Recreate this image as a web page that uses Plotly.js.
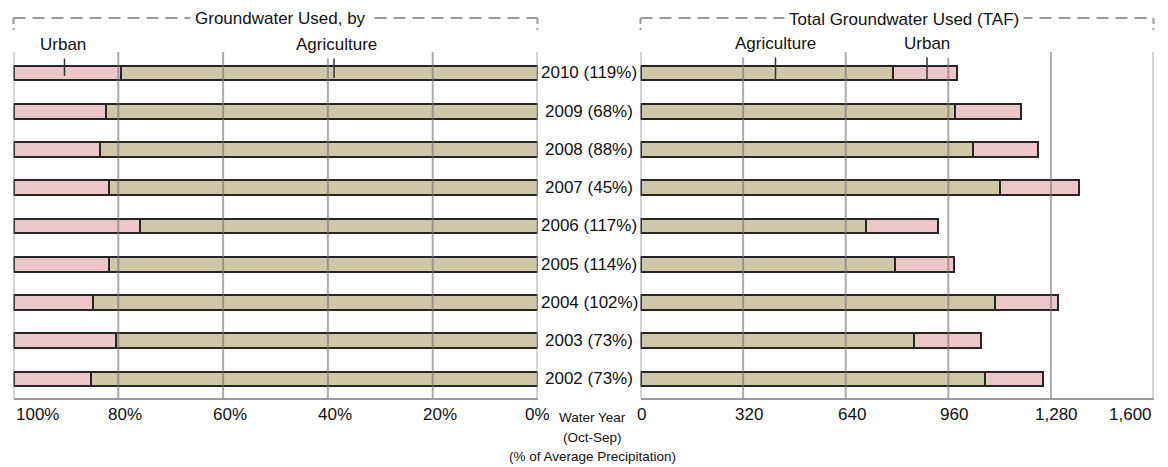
<!DOCTYPE html>
<html>
<head>
<meta charset="utf-8">
<script src="https://cdn.plot.ly/plotly-3.0.1.min.js"></script>
<style>html,body{margin:0;padding:0;background:#fff;}#chart{width:1168px;height:467px;}</style>
</head>
<body>
<div id="chart"></div>
<script>
// ---- data ----
const years = ['2002','2003','2004','2005','2006','2007','2008','2009','2010'];
const precipPct = [73, 73, 102, 114, 117, 45, 88, 68, 119];
const agTAF = [1073, 853, 1105, 794, 704, 1122, 1036, 982, 786];
const urbanTAF = [182, 210, 198, 183, 224, 246, 204, 204, 202];
const agPct = [85.2, 80.4, 84.8, 81.7, 75.8, 81.7, 83.5, 82.4, 79.5];
const urbanPct = [14.8, 19.6, 15.2, 18.3, 24.2, 18.3, 16.5, 17.6, 20.5];
const pctTicks = [100, 80, 60, 40, 20, 0];
const pctTickText = ['100%', '80%', '60%', '40%', '20%', '0%'];
const tafTicks = [0, 320, 640, 960, 1280, 1600];
const tafTickText = ['0', '320', '640', '960', '1,280', '1,600'];

// ---- style ----
const W = 1168, H = 467;
const FONT = 'Liberation Sans, Arial, sans-serif';
const AG = '#cfc8a8', URB = '#ecc6c8', EDGE = '#262626', GRID = '#9a9a9a';
const px = v => v / W;
const py = v => 1 - v / H;
const barW = 0.38;

const bar = (x, y, xa, color, name) => ({
  type: 'bar', orientation: 'h', x: x, y: y, xaxis: xa, yaxis: 'y', name: name,
  width: barW, marker: {color: color, line: {color: EDGE, width: 2}},
  hoverinfo: 'x+y', showlegend: false
});

const data = [
  bar(agPct, years, 'x', AG, 'Agriculture %'),
  bar(urbanPct, years, 'x', URB, 'Urban %'),
  bar(agTAF, years, 'x2', AG, 'Agriculture TAF'),
  bar(urbanTAF, years, 'x2', URB, 'Urban TAF')
];

const shapes = [];
const annotations = [];
const gridTop = 52, gridBot = 398;

pctTicks.forEach(t => shapes.push({type: 'line', xref: 'x', yref: 'paper', x0: t, x1: t,
  y0: py(gridBot), y1: py(gridTop), layer: 'above', line: {color: 'rgba(115,115,115,0.6)', width: 2}}));
tafTicks.forEach(t => shapes.push({type: 'line', xref: 'x2', yref: 'paper', x0: t, x1: t,
  y0: py(gridBot), y1: py(gridTop), layer: 'above', line: {color: 'rgba(115,115,115,0.6)', width: 2}}));

// tick labels
const tickY = py(414);
pctTicks.forEach((t, i) => {
  let xa = 'center', xs = 7;
  if (i === 0) { xa = 'left'; xs = 0; }
  if (i === pctTicks.length - 1) { xs = 0; }
  annotations.push({xref: 'x', yref: 'paper', x: t, y: tickY, text: pctTickText[i], showarrow: false,
    xanchor: xa, yanchor: 'middle', xshift: xs, font: {family: FONT, size: 17, color: '#111'}});
});
tafTicks.forEach((t, i) => {
  let xa = 'center', xs = 6;
  if (i === 0) { xs = 1; }
  if (i === tafTicks.length - 1) { xa = 'right'; xs = 0; }
  annotations.push({xref: 'x2', yref: 'paper', x: t, y: tickY, text: tafTickText[i], showarrow: false,
    xanchor: xa, yanchor: 'middle', xshift: xs, font: {family: FONT, size: 17, color: '#111'}});
});

// year labels (category axis: position by category index)
years.forEach((yr, i) => {
  annotations.push({xref: 'paper', yref: 'y', x: px(589), y: i, text: yr + ' (' + precipPct[i] + '%)',
    showarrow: false, xanchor: 'center', yanchor: 'middle', font: {family: FONT, size: 17, color: '#111'}});
});

// bottom caption
[['Water Year', 417], ['(Oct-Sep)', 437], ['(% of Average Precipitation)', 456]].forEach(([t, y]) => {
  annotations.push({xref: 'paper', yref: 'paper', x: px(592), y: py(y), text: t, showarrow: false,
    xanchor: 'center', yanchor: 'middle', font: {family: FONT, size: 13.5, color: '#111'}});
});

// header brackets
const dash = '12px,7px';
[[13.5, 537.5], [640.5, 1153.5]].forEach(([a, b]) => {
  shapes.push({type: 'line', xref: 'paper', yref: 'paper', x0: px(a), x1: px(b), y0: py(18), y1: py(18),
    line: {color: GRID, width: 2, dash: dash}});
  [a, b].forEach(x => shapes.push({type: 'line', xref: 'paper', yref: 'paper', x0: px(x), x1: px(x),
    y0: py(18), y1: py(30), line: {color: GRID, width: 2, dash: '6px,4px'}}));
});

const hdr = (text, x, y) => annotations.push({xref: 'paper', yref: 'paper', x: px(x), y: py(y), text: text,
  showarrow: false, xanchor: 'center', yanchor: 'middle', bgcolor: '#fff', borderpad: 4,
  font: {family: FONT, size: 17, color: '#111'}});
hdr('Groundwater Used, by', 280, 19);
hdr('Total Groundwater Used (TAF)', 904, 20);
hdr('Urban', 63, 44);
hdr('Agriculture', 336, 44);
hdr('Agriculture', 775, 43);
hdr('Urban', 927, 43);

// leader lines
[[64.5, 55, 76], [334, 55, 78], [775.5, 56, 80], [927, 56, 80]].forEach(([x, a, b]) => {
  shapes.push({type: 'line', xref: 'paper', yref: 'paper', x0: px(x), x1: px(x), y0: py(a), y1: py(b),
    layer: 'above', line: {color: '#333', width: 1.5}});
});

const xbase = {showgrid: false, zeroline: false, showticklabels: false, ticks: '', showline: true,
  linecolor: GRID, linewidth: 2, anchor: 'y', fixedrange: true};

const layout = {
  width: W, height: H,
  margin: {l: 0, r: 0, t: 0, b: 0, pad: 0},
  paper_bgcolor: '#fff', plot_bgcolor: 'rgba(0,0,0,0)',
  barmode: 'stack', bargap: 0,
  showlegend: false,
  font: {family: FONT, size: 17, color: '#111'},
  xaxis: Object.assign({}, xbase, {domain: [px(13.5), px(537.5)], range: [100, 0]}),
  xaxis2: Object.assign({}, xbase, {domain: [px(640.5), px(1153.5)], range: [0, 1600]}),
  yaxis: {type: 'category', categoryorder: 'array', categoryarray: years,
    range: [-0.497, 8.549], domain: [py(gridBot), py(gridTop)],
    showticklabels: false, showgrid: false, zeroline: false, showline: false, ticks: '', fixedrange: true},
  shapes: shapes,
  annotations: annotations
};

Plotly.newPlot('chart', data, layout, {displayModeBar: false, staticPlot: true});
</script>
</body>
</html>
